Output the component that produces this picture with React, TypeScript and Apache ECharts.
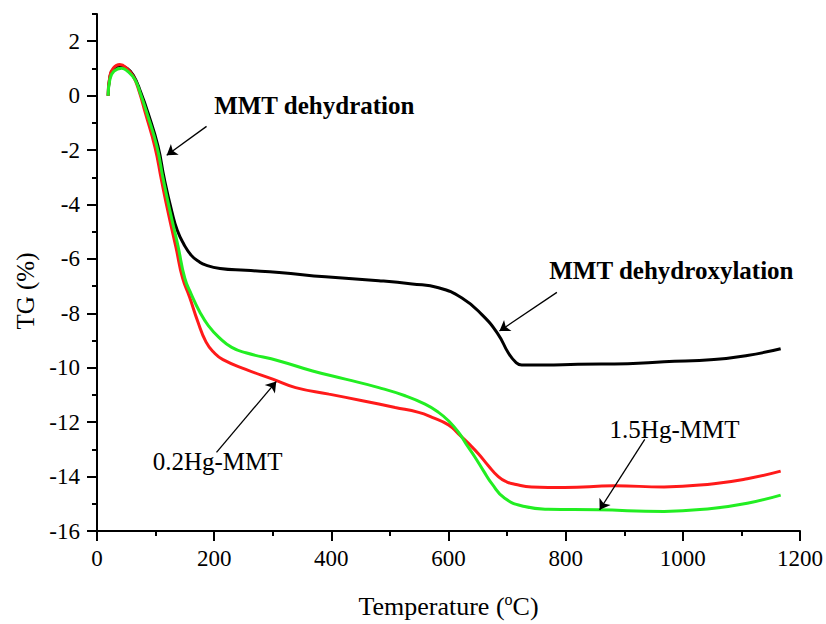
import React, { useEffect, useRef } from "react";
import * as echarts from "echarts";

// Temperature (°C) and TG (%)
const mmtT = [19, 22, 28, 39, 50, 62, 75, 87, 104, 115, 128, 137, 148, 161, 174, 186, 210, 254, 311, 390, 481, 538, 583, 623, 657, 685, 702, 715, 725, 764, 821, 906, 968, 1053, 1110, 1167];
const mmtTG = [0, 0.68, 0.98, 1.1, 1.02, 0.75, 0.1, -0.63, -1.85, -3.07, -4.28, -4.95, -5.45, -5.87, -6.1, -6.23, -6.35, -6.42, -6.5, -6.66, -6.8, -6.92, -7.06, -7.44, -8.05, -8.78, -9.45, -9.8, -9.9, -9.9, -9.87, -9.85, -9.78, -9.7, -9.55, -9.3];

const hg02T = [19, 22, 28, 39, 50, 62, 72, 82, 99, 110, 122, 135, 146, 158, 172, 186, 200, 215, 254, 300, 339, 396, 453, 509, 549, 572, 600, 617, 635, 651, 668, 685, 700, 713, 742, 798, 883, 968, 1053, 1110, 1167];
const hg02TG = [0, 0.72, 1.02, 1.14, 1.02, 0.7, 0.15, -0.6, -1.9, -3.1, -4.35, -5.6, -6.7, -7.4, -8.3, -9.05, -9.45, -9.7, -10.06, -10.42, -10.73, -10.97, -11.21, -11.46, -11.64, -11.82, -12.1, -12.43, -12.8, -13.16, -13.6, -14.0, -14.2, -14.28, -14.38, -14.4, -14.34, -14.38, -14.26, -14.08, -13.8];

const hg15T = [19, 22, 29, 42, 53, 65, 75, 85, 102, 113, 125, 138, 150, 161, 175, 190, 209, 230, 254, 311, 368, 424, 481, 526, 560, 583, 600, 617, 630, 645, 660, 674, 696, 730, 770, 855, 968, 1053, 1110, 1167];
const hg15TG = [0, 0.6, 0.9, 1.01, 0.88, 0.58, 0.02, -0.63, -1.85, -3.07, -4.28, -5.5, -6.72, -7.3, -7.93, -8.45, -8.9, -9.25, -9.45, -9.75, -10.12, -10.42, -10.73, -11.03, -11.34, -11.64, -11.95, -12.37, -12.8, -13.28, -13.8, -14.26, -14.8, -15.1, -15.2, -15.22, -15.28, -15.16, -14.98, -14.68];

const yMajorTicks = [-16, -14, -12, -10, -8, -6, -4, -2, 0, 2];

// annotations: label text, label anchor (data coords), arrow from -> to (data coords)
const labelTexts = ["MMT dehydration", "MMT dehydroxylation", "0.2Hg-MMT", "1.5Hg-MMT"];
const labelBold = [true, true, false, false];
const labelAt = [[200, -0.37], [772, -6.43], [95, -13.44], [875, -12.27]];
const arrowFrom = [[187, -1.13], [785, -7.23], [204, -13.11], [935, -12.63]];
const arrowTo = [[119, -2.19], [687, -8.65], [306, -10.51], [858, -15.22]];

const yTitle = "TG (%)";

const FONT = "'Liberation Serif', 'Times New Roman', Times, serif";

const zip = (xs: number[], ys: number[]) => xs.map((x, i) => [x, ys[i]]);

export default function App() {
  const ref = useRef<HTMLDivElement>(null);
  useEffect(() => {
    if (!ref.current) return;
    const chart = echarts.init(ref.current, null, { renderer: "svg" });
    const lineSeries = (name: string, data: number[][], color: string, extra: any = {}) => ({
      name,
      type: "line",
      data,
      showSymbol: false,
      symbol: "none",
      smooth: 0.5,
      lineStyle: { color, width: 3 },
      itemStyle: { color },
      silent: true,
      ...extra,
    });
    const option: any = {
      animation: false,
      backgroundColor: "#ffffff",
      textStyle: { fontFamily: FONT, color: "#000" },
      grid: { left: 97, right: 23, top: 14, bottom: 90, containLabel: false },
      xAxis: {
        type: "value",
        min: 0,
        max: 1200,
        interval: 200,
        name: "{t|Temperature (}{s|o}{t|C)}",
        nameLocation: "middle",
        nameGap: 60,
        nameTextStyle: {
          color: "#000",
          rich: {
            t: { fontFamily: FONT, fontSize: 26, color: "#000", lineHeight: 30 },
            s: { fontFamily: FONT, fontSize: 16, color: "#000", verticalAlign: "top", lineHeight: 30 },
          },
        },
        axisLine: { show: true, onZero: false, lineStyle: { color: "#000", width: 2 } },
        axisTick: { show: true, inside: false, length: 10, lineStyle: { color: "#000", width: 2 } },
        minorTick: { show: true, splitNumber: 2, length: 5, lineStyle: { color: "#000", width: 2 } },
        axisLabel: {
          fontFamily: FONT,
          fontSize: 23,
          color: "#000",
          margin: 16,
          formatter: (v: number) => String(v),
        },
        splitLine: { show: false },
        minorSplitLine: { show: false },
      },
      yAxis: [
        {
          type: "value",
          min: -16,
          max: 3,
          interval: 1,
          position: "left",
          axisLine: { show: true, onZero: false, lineStyle: { color: "#000", width: 2 } },
          axisTick: { show: true, inside: false, length: 5, lineStyle: { color: "#000", width: 2 } },
          axisLabel: { show: false },
          splitLine: { show: false },
        },
        {
          type: "value",
          min: -16,
          max: 3,
          interval: 2,
          position: "left",
          offset: 0,
          axisLine: { show: false, lineStyle: { color: "#000" } },
          axisTick: {
            show: true,
            inside: false,
            length: 10,
            customValues: yMajorTicks,
            lineStyle: { color: "#000", width: 2 },
          },
          axisLabel: {
            fontFamily: FONT,
            fontSize: 23,
            color: "#000",
            margin: 17,
            customValues: yMajorTicks,
            formatter: (v: number) => (v > 2.5 ? "" : String(v)),
          },
          splitLine: { show: false },
        },
      ],
      series: [
        lineSeries("MMT", zip(mmtT, mmtTG), "#000000", {
          markLine: {
            silent: true,
            symbol: ["none", "arrow"],
            symbolSize: 10,
            label: { show: false },
            lineStyle: { color: "#000", width: 1.3, type: "solid" },
            itemStyle: { color: "#000" },
            emphasis: { disabled: true },
            data: arrowFrom.map((f, i) => [
              { coord: f, symbol: "none" },
              { coord: arrowTo[i], symbol: "arrow", symbolSize: 10 },
            ]),
          },
        }),
        lineSeries("0.2Hg-MMT", zip(hg02T, hg02TG), "#ff1a1a"),
        lineSeries("1.5Hg-MMT", zip(hg15T, hg15TG), "#22ee22"),
      ],
    };
    chart.setOption(option);
    const graphics: any[] = labelTexts.map((txt, i) => {
      const p = chart.convertToPixel({ gridIndex: 0 }, labelAt[i]) as number[];
      return {
        type: "text",
        x: p[0],
        y: p[1],
        silent: true,
        style: {
          text: txt,
          fill: "#000",
          fontFamily: FONT,
          fontSize: 25,
          fontWeight: labelBold[i] ? "bold" : "normal",
          textAlign: "left",
          textVerticalAlign: "middle",
          verticalAlign: "middle",
        },
      };
    });
    graphics.push({
      type: "text",
      x: 25,
      y: 291,
      rotation: Math.PI / 2,
      silent: true,
      style: {
        text: yTitle,
        fill: "#000000",
        fontFamily: FONT,
        fontSize: 25,
        textAlign: "center",
        verticalAlign: "middle",
        textVerticalAlign: "middle",
      },
    });
    chart.setOption({ graphic: graphics });
    return () => chart.dispose();
  }, []);
  return (
    <div
      ref={ref}
      style={{ position: "fixed", left: 0, top: 0, width: 826, height: 624, background: "#fff" }}
    />
  );
}
